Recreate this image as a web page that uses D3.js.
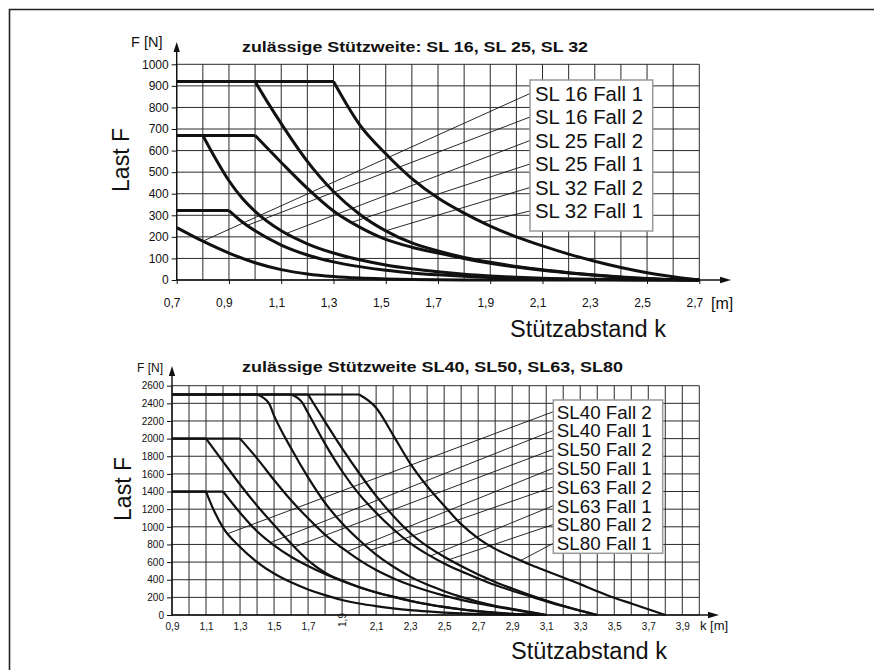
<!DOCTYPE html>
<html><head><meta charset="utf-8">
<script src="https://cdn.jsdelivr.net/npm/d3@7"></script>
<style>
body{margin:0;background:#fff;}
svg text{font-family:"Liberation Sans",Arial,sans-serif;fill:#111;}
</style></head><body>
<svg id="c" width="874" height="670"></svg>
<script>
// ---------- DATA ----------
const topXTicks  = [0.7,0.9,1.1,1.3,1.5,1.7,1.9,2.1,2.3,2.5,2.7];
const topXLabels = ["0,7","0,9","1,1","1,3","1,5","1,7","1,9","2,1","2,3","2,5","2,7"];
const topYTicks  = [0,100,200,300,400,500,600,700,800,900,1000];

const botXTicks  = [0.9,1.1,1.3,1.5,1.7,1.9,2.1,2.3,2.5,2.7,2.9,3.1,3.3,3.5,3.7,3.9];
const botXLabels = ["0,9","1,1","1,3","1,5","1,7","1,9","2,1","2,3","2,5","2,7","2,9","3,1","3,3","3,5","3,7","3,9"];
const botYTicks  = [0,200,400,600,800,1000,1200,1400,1600,1800,2000,2200,2400,2600];

// top chart series [k (m), F (N)]
const sl16Fall1 = [[0.7,243],[0.8,180],[0.9,125],[1.0,80],[1.1,48],[1.2,28],[1.3,16],[1.4,9],[1.5,5],[1.6,2],[1.8,0],[2.7,0]];
const sl16Fall2 = [[0.7,322],[0.9,322],[0.95,270],[1.0,228],[1.1,162],[1.2,116],[1.3,84],[1.4,62],[1.5,45],[1.6,33],[1.7,24],[1.8,17],[1.9,12],[2.0,8],[2.1,5],[2.2,3],[2.4,1],[2.7,0]];
const sl25Fall2 = [[0.7,670],[0.8,670],[0.85,560],[0.9,460],[0.95,380],[1.0,318],[1.1,228],[1.2,168],[1.3,125],[1.4,94],[1.5,70],[1.6,52],[1.7,38],[1.8,27],[1.9,19],[2.0,13],[2.1,8],[2.2,5],[2.3,3],[2.5,1],[2.7,0]];
const sl25Fall1 = [[0.7,670],[1.0,670],[1.1,545],[1.2,425],[1.3,320],[1.4,245],[1.5,188],[1.6,152],[1.7,125],[1.8,100],[1.9,78],[2.0,60],[2.1,45],[2.2,33],[2.3,22],[2.4,13],[2.5,6],[2.6,2],[2.7,0]];
const sl32Fall2 = [[0.7,920],[1.0,920],[1.05,820],[1.1,725],[1.2,550],[1.3,410],[1.4,305],[1.5,228],[1.6,172],[1.7,135],[1.8,105],[1.9,82],[2.0,63],[2.1,47],[2.2,34],[2.3,23],[2.4,14],[2.5,7],[2.6,2],[2.7,0]];
const sl32Fall1 = [[0.7,920],[1.3,920],[1.35,815],[1.4,720],[1.5,585],[1.6,470],[1.7,380],[1.8,310],[1.9,250],[2.0,200],[2.1,158],[2.2,120],[2.3,87],[2.4,58],[2.5,34],[2.6,15],[2.7,0]];

const topLegend  = ["SL 16 Fall 1","SL 16 Fall 2","SL 25 Fall 2","SL 25 Fall 1","SL 32 Fall 2","SL 32 Fall 1"];
const topLeaderK = [0.8, 0.97, 1.12, 1.37, 1.5, 1.87];

// bottom chart series
const sl40Fall2 = [[0.9,1400],[1.1,1400],[1.15,1170],[1.2,990],[1.3,770],[1.4,600],[1.5,470],[1.6,370],[1.7,290],[1.8,225],[1.9,170],[2.0,130],[2.1,100],[2.2,75],[2.3,55],[2.4,40],[2.5,28],[2.6,18],[2.7,11],[2.8,6],[2.9,3],[3.0,1],[3.1,0]];
const sl40Fall1 = [[0.9,1400],[1.2,1400],[1.3,1160],[1.4,950],[1.5,790],[1.6,660],[1.7,555],[1.8,465],[1.9,385],[2.0,315],[2.1,255],[2.2,205],[2.3,160],[2.4,122],[2.5,90],[2.6,63],[2.7,42],[2.8,25],[2.9,12],[3.0,4],[3.1,0]];
const sl50Fall2 = [[0.9,2000],[1.1,2000],[1.2,1740],[1.3,1480],[1.4,1240],[1.5,1020],[1.6,810],[1.7,620],[1.8,480],[1.9,390],[2.0,318],[2.1,258],[2.2,208],[2.3,162],[2.4,124],[2.5,92],[2.6,65],[2.7,43],[2.8,26],[2.9,13],[3.0,5],[3.1,0]];
const sl50Fall1 = [[0.9,2000],[1.3,2000],[1.4,1776],[1.5,1530],[1.6,1300],[1.7,1096],[1.8,910],[1.9,760],[2.0,625],[2.1,510],[2.2,418],[2.3,340],[2.4,275],[2.5,220],[2.6,172],[2.7,130],[2.8,95],[2.9,62],[3.0,30],[3.1,0]];
const sl63Fall2 = [[0.9,2500],[1.4,2500],[1.47,2400],[1.5,2260],[1.6,1890],[1.7,1560],[1.8,1270],[1.9,1040],[2.0,850],[2.1,685],[2.2,550],[2.3,435],[2.4,345],[2.5,270],[2.6,205],[2.7,150],[2.8,105],[2.9,70],[3.0,35],[3.1,0]];
const sl63Fall1 = [[0.9,2500],[1.6,2500],[1.665,2410],[1.7,2290],[1.8,1940],[1.9,1630],[2.0,1370],[2.1,1160],[2.2,975],[2.3,815],[2.4,690],[2.5,585],[2.6,495],[2.7,415],[2.8,340],[2.9,275],[3.0,215],[3.1,155],[3.2,100],[3.3,48],[3.4,0]];
const sl80Fall2 = [[0.9,2500],[1.7,2500],[1.8,2190],[1.9,1890],[2.0,1610],[2.1,1350],[2.2,1125],[2.3,930],[2.4,780],[2.5,660],[2.6,555],[2.7,460],[2.8,375],[2.9,300],[3.0,230],[3.1,165],[3.2,105],[3.3,50],[3.4,0]];
const sl80Fall1 = [[0.9,2500],[2.0,2500],[2.1,2350],[2.2,2040],[2.3,1720],[2.4,1460],[2.5,1240],[2.6,1030],[2.7,870],[2.8,750],[2.9,660],[3.0,575],[3.1,500],[3.2,425],[3.3,350],[3.4,270],[3.5,195],[3.6,130],[3.7,65],[3.8,0]];

const botLegend  = ["SL40 Fall 2","SL40 Fall 1","SL50 Fall 2","SL50 Fall 1","SL63 Fall 2","SL63 Fall 1","SL80 Fall 2","SL80 Fall 1"];
const botLeaderK = [1.23, 1.48, 1.62, 1.93, 2.07, 2.42, 2.53, 2.95];

// ---------- DRAW ----------
const svg = d3.select("#c");
const ink = "#111";

svg.append("path").attr("d","M9.5,670 V9.5 H874")
  .attr("fill","none").attr("stroke","#222").attr("stroke-width",1.6);

function interp(series, k){
  for(let i=1;i<series.length;i++){
    const a=series[i-1], b=series[i];
    if(k<=b[0]){ const t=(k-a[0])/(b[0]-a[0]); return a[1]+t*(b[1]-a[1]); }
  }
  return series[series.length-1][1];
}

function panel(o){
  const g = svg.append("g");
  const x = o.x, y = o.y;
  const [x0,x1] = x.domain(), [y0,y1] = y.domain();
  // grid
  const gx = d3.range(0, Math.round((x1-x0)/0.1)+1).map(i=>x0+i*0.1);
  const gy = d3.range(y0, y1+0.001, o.gridStep);
  g.append("g").selectAll("line").data(gx).join("line")
    .attr("x1",d=>x(d)).attr("x2",d=>x(d)).attr("y1",y(y0)).attr("y2",y(y1))
    .attr("stroke","#2a2a2a").attr("stroke-width",1);
  g.append("g").selectAll("line").data(gy).join("line")
    .attr("x1",x(x0)).attr("x2",x(x1)).attr("y1",d=>y(d)).attr("y2",d=>y(d))
    .attr("stroke","#2a2a2a").attr("stroke-width",1);

  // y axis ticks/labels
  const ya = g.append("g").attr("transform",`translate(${x(x0)},0)`)
    .call(d3.axisLeft(y).tickValues(o.yTicks).tickSize(5).tickPadding(3).tickFormat(d3.format("d")));
  ya.select(".domain").remove();
  ya.selectAll("line").attr("stroke",ink);
  ya.selectAll("text").attr("font-size",o.yFont).attr("fill",ink).style("font-family","Liberation Sans, Arial, sans-serif");

  // x axis ticks/labels
  const xa = g.append("g").attr("transform",`translate(0,${y(y0)})`)
    .call(d3.axisBottom(x).tickValues(o.xTicks).tickSize(o.xTickSize).tickPadding(o.xPad)
      .tickFormat((d,i)=>o.xLabels[i]));
  xa.select(".domain").remove();
  xa.selectAll("line").attr("stroke",ink);
  xa.selectAll("text").attr("font-size",o.xFont).attr("fill",ink).attr("dx",o.xShift)
    .style("font-family","Liberation Sans, Arial, sans-serif");
  if(o.rotateLabel){
    xa.selectAll("text").filter((d,i)=>o.xLabels[i]===o.rotateLabel)
      .attr("transform","rotate(-90)").attr("dy","0.35em").attr("dx",0)
      .attr("x",-5).attr("y",0);
  }

  // leader lines
  o.series.forEach((s,i)=>{
    const k=o.leaderK[i], F=interp(s,k);
    g.append("line").attr("x1",o.legX).attr("y1",o.legY0+i*o.legStep)
      .attr("x2",x(k)).attr("y2",y(F)).attr("stroke",ink).attr("stroke-width",0.9);
  });

  // curves
  const lin = d3.line().x(d=>x(d[0])).y(d=>y(d[1]));
  const mono = d3.line().curve(d3.curveMonotoneX).x(d=>x(d[0])).y(d=>y(d[1]));
  o.series.forEach(s=>{
    let p=0; while(p+1<s.length && s[p+1][1]===s[0][1]) p++;
    if(p>0) g.append("path").attr("d",lin(s.slice(0,p+1))).attr("fill","none")
      .attr("stroke",ink).attr("stroke-width",o.curveW).attr("stroke-linejoin","round");
    g.append("path").attr("d",mono(s.slice(p))).attr("fill","none")
      .attr("stroke",ink).attr("stroke-width",o.curveW).attr("stroke-linejoin","round");
  });

  // axes lines + arrows
  const ax = x(x0), ay = y(y0);
  g.append("line").attr("x1",ax).attr("x2",ax).attr("y1",ay).attr("y2",o.yTip+6).attr("stroke",ink).attr("stroke-width",1.4);
  g.append("line").attr("x1",ax).attr("x2",o.xTip-6).attr("y1",ay).attr("y2",ay).attr("stroke",ink).attr("stroke-width",1.6);
  g.append("path").attr("d",`M${ax},${o.yTip} L${ax-3.2},${o.yTip+10} L${ax+3.2},${o.yTip+10}Z`).attr("fill",ink);
  g.append("path").attr("d",`M${o.xTip},${ay} L${o.xTip-11},${ay-3.2} L${o.xTip-11},${ay+3.2}Z`).attr("fill",ink);

  // legend box
  const lb = o.legBox;
  g.append("rect").attr("x",lb[0]).attr("y",lb[1]).attr("width",lb[2]).attr("height",lb[3])
    .attr("fill","#fff").attr("stroke","#999").attr("stroke-width",1.5);
  g.append("g").selectAll("text").data(o.legend).join("text")
    .attr("x",lb[0]+o.legPad).attr("y",(d,i)=>o.legY0+i*o.legStep+o.legCap)
    .attr("font-size",o.legFont)
    .attr("textLength",o.legW).attr("lengthAdjust","spacingAndGlyphs").text(d=>d);

  // texts
  g.append("text").attr("x",o.fn[0]).attr("y",o.fn[1]).attr("font-size",o.fn[2]).text("F [N]");
  g.append("text").attr("x",242).attr("y",o.title[1]).attr("font-size",o.title[2]).attr("font-weight","bold")
    .attr("textLength",o.title[3]).attr("lengthAdjust","spacingAndGlyphs").text(o.title[0]);
  g.append("text").attr("transform",`translate(${o.last[0]},${o.last[1]}) rotate(-90)`)
    .attr("text-anchor","middle").attr("font-size",23).text("Last F");
  g.append("text").attr("x",o.unit[0]).attr("y",o.unit[1]).attr("font-size",o.unit[2]).text(o.unit[3]);
  g.append("text").attr("x",o.sa[0]).attr("y",o.sa[1]).attr("font-size",23)
    .attr("textLength",156).attr("lengthAdjust","spacingAndGlyphs").text("Stützabstand k");
}

panel({
  x: d3.scaleLinear().domain([0.7,2.7]).range([176.7,699.3]),
  y: d3.scaleLinear().domain([0,1000]).range([280,64.3]),
  gridStep:100, yTicks:topYTicks, yFont:12,
  xTicks:topXTicks, xLabels:topXLabels, xTickSize:4, xPad:14, xFont:12, xShift:-5,
  series:[sl16Fall1,sl16Fall2,sl25Fall2,sl25Fall1,sl32Fall2,sl32Fall1],
  leaderK:topLeaderK, legend:topLegend,
  legX:530, legY0:93.5, legStep:23.5, legBox:[530,80,122.7,151], legPad:5, legFont:20.5, legCap:7.4, legW:108,
  curveW:3, yTip:42, xTip:731,
  fn:[131,46.5,14.5], title:["zulässige Stützweite: SL 16, SL 25, SL 32",51.5,14.5,346],
  last:[129,160], unit:[711,309,16,"[m]"], sa:[510,337]
});

panel({
  x: d3.scaleLinear().domain([0.9,4.0]).range([172,699.3]),
  y: d3.scaleLinear().domain([0,2600]).range([615,385.7]),
  gridStep:200, yTicks:botYTicks, yFont:10,
  xTicks:botXTicks, xLabels:botXLabels, xTickSize:0, xPad:8, xFont:10, xShift:0,
  rotateLabel:"1,9",
  series:[sl40Fall2,sl40Fall1,sl50Fall2,sl50Fall1,sl63Fall2,sl63Fall1,sl80Fall2,sl80Fall1],
  leaderK:botLeaderK, legend:botLegend,
  legX:553.3, legY0:411.7, legStep:18.8, legBox:[553.3,400,109.4,153.3], legPad:3.5, legFont:17.5, legCap:6.8, legW:95,
  curveW:2.2, yTip:366, xTip:719,
  fn:[137,371.5,12], title:["zulässige Stützweite SL40, SL50, SL63, SL80",371.5,14,381],
  last:[131,489], unit:[700,630,13,"k [m]"], sa:[511,659]
});
</script>
</body></html>
